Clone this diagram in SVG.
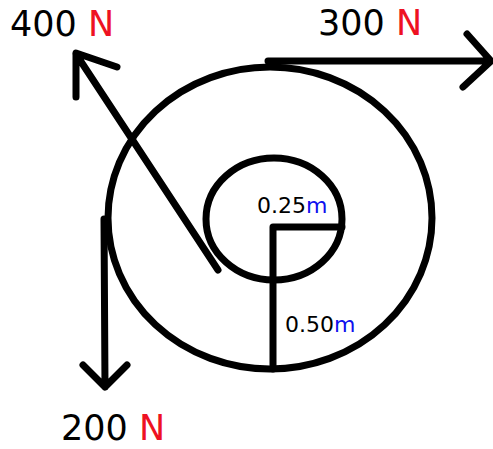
<svg xmlns="http://www.w3.org/2000/svg" width="493" height="449" viewBox="0 0 493 449">
<style>
.s{fill:none;stroke:#000;stroke-width:7;stroke-linecap:round;stroke-linejoin:round}
.t{font-family:"DejaVu Sans",sans-serif;fill:#000}
.r{fill:#ee1122}
.b{fill:#1010ee}
</style>
<rect width="493" height="449" fill="#fff"/>
<g id="outer-circle"><ellipse class="s" cx="270" cy="218" rx="162" ry="151"/></g>
<g id="inner-circle"><ellipse class="s" cx="274" cy="219" rx="68" ry="61"/></g>
<g id="radii">
<path class="s" d="M273 369 V227 H342"/>
<text class="t" x="257" y="213" font-size="22">0.25<tspan class="b">m</tspan></text>
<text class="t" x="285" y="332" font-size="22">0.50<tspan class="b">m</tspan></text>
</g>
<g id="connectors">
<path class="s" d="M268 61 H490 M467 34 L491 61 L463 87"/>
<path class="s" d="M218 270 L76 54 M117 67 L76 53 L76 97"/>
<path class="s" d="M104 219 L105 387 M83 365 L105 387 L127 365"/>
</g>
<g id="labels">
<text class="t" x="10" y="36" font-size="35">400 <tspan class="r">N</tspan></text>
<text class="t" x="318" y="35" font-size="35">300 <tspan class="r">N</tspan></text>
<text class="t" x="61" y="440" font-size="35">200 <tspan class="r">N</tspan></text>
</g>
</svg>
